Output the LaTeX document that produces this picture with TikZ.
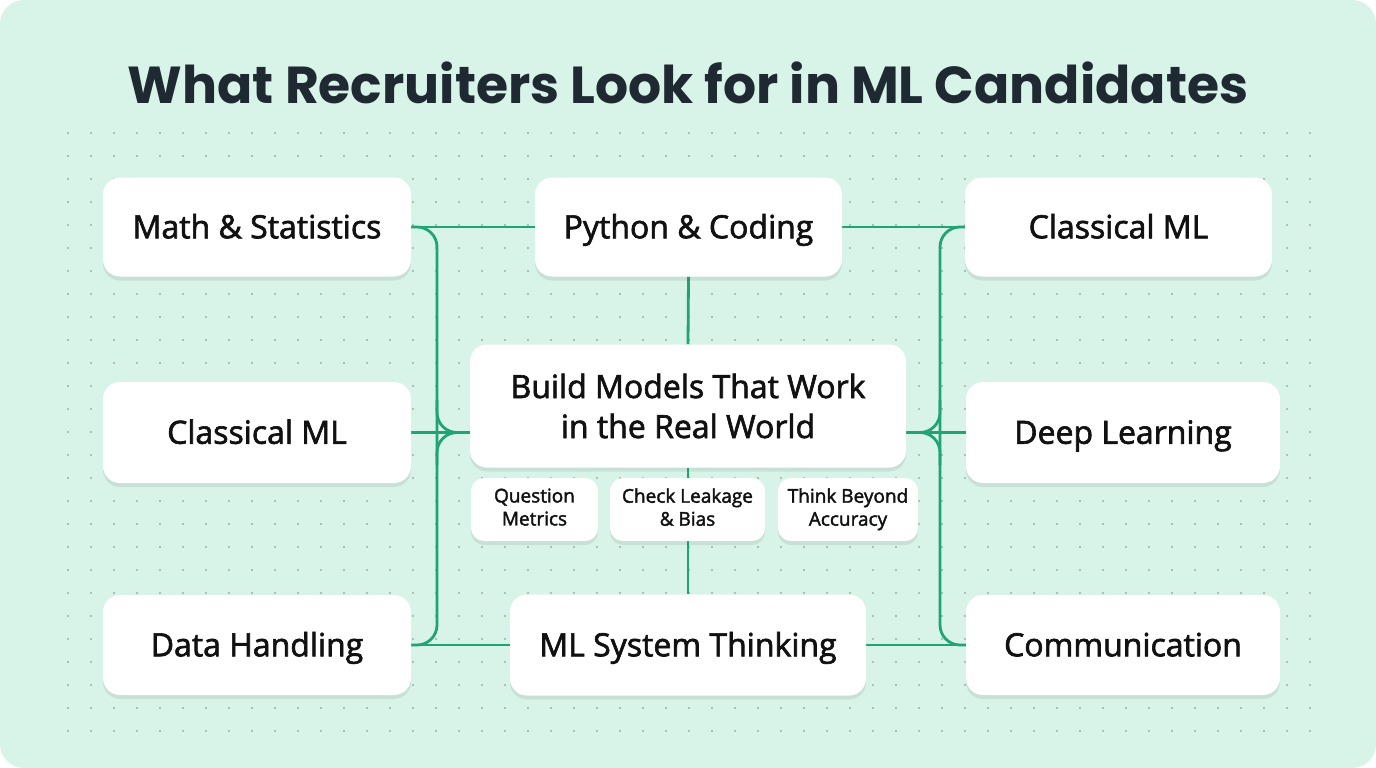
\documentclass[tikz,border=0pt]{standalone}
\usepackage{fontspec}
\setmainfont{Open Sans}[FakeBold=2]
\newfontfamily\titlefont{Poppins}
\usetikzlibrary{shadows}
\definecolor{mint}{HTML}{D8F3E8}
\definecolor{linkgreen}{HTML}{1FA474}
\definecolor{dotgray}{HTML}{A0AEA8}
\definecolor{ink}{HTML}{111111}
\definecolor{titleink}{HTML}{1E2932}
\pgfdeclarelayer{back}
\pgfdeclarelayer{wires}
\pgfsetlayers{back,wires,main}

\begin{document}
\begin{tikzpicture}[x=1pt,y=-1pt,
  card/.style={fill=white, rounded corners=17pt, inner sep=0pt, align=center, text=ink,
    font=\fontsize{32}{40}\selectfont,
    drop shadow={shadow xshift=0pt, shadow yshift=-4pt, opacity=0.10, fill=black!70!mint}},
  oneline/.style={text height=22.5pt, text depth=0pt},
  chip/.style={card, rounded corners=13pt, minimum height=63pt, text depth=5pt, font=\fontsize{19}{23}\selectfont},
  link/.style={draw=linkgreen, line width=2.8pt, rounded corners=20pt}]
  \useasboundingbox (0,0) rectangle (1376,768);

  % backdrop and dot grid
  \begin{pgfonlayer}{back}
    \fill[white] (0,0) rectangle (1376,768);
    \fill[mint, rounded corners=24pt] (0,0) rectangle (1376,768);
    \foreach \i in {0,...,54}
      \foreach \j in {0,...,26}
        \fill[dotgray] (68+23*\i,133+23*\j) circle (1.2);
  \end{pgfonlayer}

  % Title
  \node[font=\titlefont\bfseries\fontsize{52}{60}\selectfont, text=titleink] (title) at (688,83) {What Recruiters Look for in ML Candidates};

  % top row
  \node[card, oneline, minimum width=308pt, minimum height=99pt] (math) at (257,227) {Math \& Statistics};
  \node[card, oneline, minimum width=307pt, minimum height=99pt] (python) at (688.5,227) {Python \& Coding};
  \node[card, oneline, minimum width=307pt, minimum height=99pt] (cmlright) at (1118.5,227) {Classical ML};

  % middle row
  \node[card, oneline, minimum width=308pt, minimum height=101pt] (cmlleft) at (257,432.5) {Classical ML};
  \node[card, minimum width=436pt, minimum height=123pt] (build) at (688,406) {Build Models That Work\\in the Real World};
  \node[card, oneline, minimum width=314pt, minimum height=101pt] (deep) at (1123,432.5) {Deep Learning};

  % habits under the centre card
  \node[chip, minimum width=127pt] (metrics) at (534.5,509.5) {Question\\Metrics};
  \node[chip, minimum width=155pt] (leakage) at (687.5,509.5) {Check Leakage\\\& Bias};
  \node[chip, minimum width=140pt] (beyond) at (848,509.5) {Think Beyond\\Accuracy};

  % bottom row
  \node[card, oneline, minimum width=308pt, minimum height=100pt] (data) at (257,645) {Data Handling};
  \node[card, oneline, minimum width=356pt, minimum height=101pt] (mlsys) at (688,645) {ML System Thinking};
  \node[card, oneline, minimum width=314pt, minimum height=100pt] (comm) at (1123,645) {Communication};

  % bus corners
  \coordinate (ltop) at (437,227);
  \coordinate (lmid) at (437,432.5);
  \coordinate (lup) at (437,400);
  \coordinate (ldown) at (437,465);
  \coordinate (lbot) at (437,645);
  \coordinate (lin) at (cmlleft.east -| build.west);
  \coordinate (rtop) at (940,227);
  \coordinate (rmid) at (940,432.5);
  \coordinate (rup) at (940,400);
  \coordinate (rdown) at (940,465);
  \coordinate (rbot) at (940,645);
  \coordinate (rin) at (deep.west -| build.east);

  \begin{pgfonlayer}{wires}
    % straight runs
    \draw[link] (math.east) -- (python.west);
    \draw[link] (python.east) -- (cmlright.west);
    \draw[link] (cmlleft.east) -- (lin);
    \draw[link] (rin) -- (deep.west);
    \draw[link] (data.east) -- (mlsys.west);
    \draw[link] (mlsys.east) -- (comm.west);
    \draw[link] (python.south) -- (build.north);
    \draw[link] (build.south) -- (mlsys.north);
    % left bus
    \draw[link] (math.east) -- (ltop) -- (lbot) -- (data.east);
    \draw[link] (lup) -- (lmid) -- (lin);
    \draw[link] (ldown) -- (lmid) -- (lin);
    % right bus
    \draw[link] (cmlright.west) -- (rtop) -- (rbot) -- (comm.west);
    \draw[link] (rup) -- (rmid) -- (rin);
    \draw[link] (rdown) -- (rmid) -- (rin);
  \end{pgfonlayer}
\end{tikzpicture}
\end{document}
